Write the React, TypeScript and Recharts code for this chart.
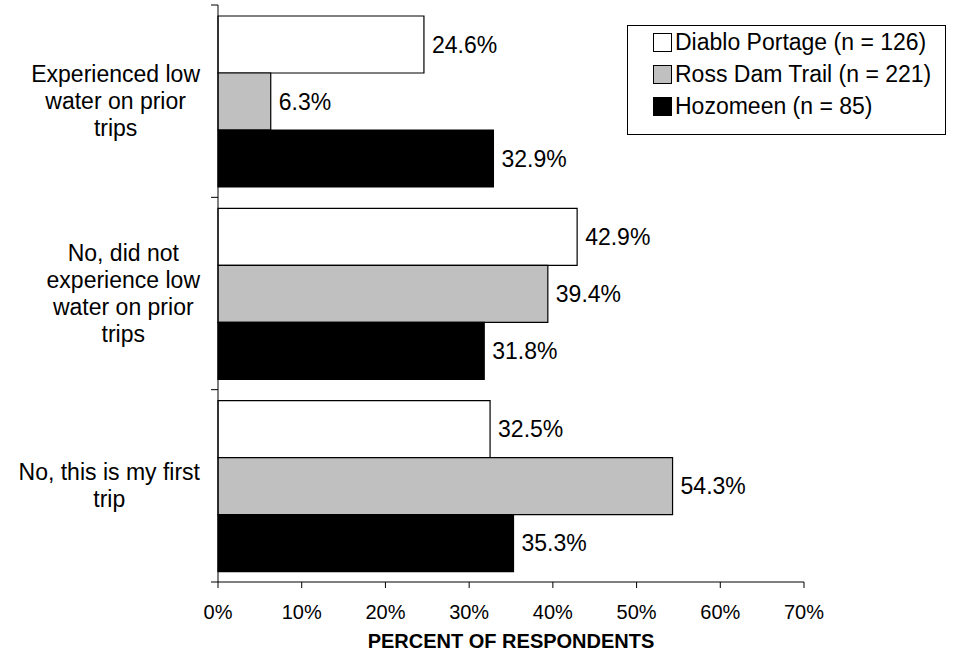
import { BarChart, Bar, XAxis, YAxis, Legend, LabelList, Label } from 'recharts';

const categories = [
  'Experienced low\nwater on prior\ntrips',
  'No, did not\nexperience low\nwater on prior\ntrips',
  'No, this is my first\ntrip',
];
const diabloPortage = [24.6, 42.9, 32.5];
const rossDamTrail = [6.3, 39.4, 54.3];
const hozomeen = [32.9, 31.8, 35.3];
const seriesNames = ['Diablo Portage (n = 126)', 'Ross Dam Trail (n = 221)', 'Hozomeen (n = 85)'];
const seriesColors = ['#ffffff', '#c0c0c0', '#000000'];
const xTicks = [0, 10, 20, 30, 40, 50, 60, 70];

const data = categories.map((category, i) => ({
  category,
  diablo: diabloPortage[i],
  ross: rossDamTrail[i],
  hozomeen: hozomeen[i],
}));

const FONT = '"Liberation Sans", Arial, sans-serif';
const WIDTH = 954;
const HEIGHT = 661;
const PLOT_LEFT = 218;
const PLOT_TOP = 5;
const X_AXIS_H = 79;
const BAND = (HEIGHT - X_AXIS_H - PLOT_TOP) / categories.length;
const LABEL_RIGHT = 200;
const LINE_H = 27;

let measureCtx: CanvasRenderingContext2D | null = null;
const textWidth = (s: string) => {
  if (!measureCtx) measureCtx = document.createElement('canvas').getContext('2d');
  if (!measureCtx) return s.length * 11;
  measureCtx.font = `23px ${FONT}`;
  return measureCtx.measureText(s).width;
};

const CategoryTick = ({ y, payload, index }: any) => {
  const lines = String(payload.value).split('\n');
  const maxW = Math.max(...lines.map(textWidth));
  const cx = LABEL_RIGHT - maxW / 2;
  const y0 = y - ((lines.length - 1) * LINE_H) / 2;
  const half = BAND / 2;
  return (
    <g>
      <line x1={PLOT_LEFT - 7} x2={PLOT_LEFT} y1={y - half} y2={y - half} stroke="#000" />
      {index === categories.length - 1 && (
        <line x1={PLOT_LEFT - 7} x2={PLOT_LEFT} y1={y + half} y2={y + half} stroke="#000" />
      )}
      <text textAnchor="middle" fontSize={23} fill="#000" fontFamily={FONT}>
        {lines.map((l, k) => (
          <tspan key={k} x={cx} y={y0 + k * LINE_H} dy="0.35em">
            {l}
          </tspan>
        ))}
      </text>
    </g>
  );
};

const LegendBox = () => (
  <div
    style={{
      border: '1px solid #000',
      boxSizing: 'border-box',
      width: 319,
      height: 110,
      padding: '1px 0 0 25px',
      fontFamily: FONT,
      fontSize: 23,
      color: '#000',
      background: '#fff',
    }}
  >
    {seriesNames.map((name, i) => (
      <div key={name} style={{ display: 'flex', alignItems: 'center', height: 31.7 }}>
        <span
          style={{
            display: 'inline-block',
            width: 17,
            height: 17,
            border: '1px solid #000',
            background: seriesColors[i],
            marginRight: 3,
          }}
        />
        <span style={{ whiteSpace: 'nowrap' }}>{name}</span>
      </div>
    ))}
  </div>
);

const fmt = (v: any) => `${Number(v).toFixed(1)}%`;
const labelStyle = { fill: '#000', fontSize: 23, fontFamily: FONT };

export default function App() {
  return (
    <div style={{ position: 'absolute', left: 0, top: 0, width: WIDTH, height: HEIGHT, background: '#fff' }}>
      <BarChart
        width={WIDTH}
        height={HEIGHT}
        data={data}
        layout="vertical"
        margin={{ top: PLOT_TOP, right: 150, left: 0, bottom: 0 }}
        barCategoryGap={11}
        barGap={0}
        style={{ fontFamily: FONT }}
      >
        <XAxis
          type="number"
          domain={[0, 70]}
          ticks={xTicks}
          interval={0}
          tickFormatter={(v) => `${v}%`}
          tick={{ fill: '#000', fontSize: 20, fontFamily: FONT }}
          tickSize={6}
          tickMargin={17}
          height={X_AXIS_H}
          axisLine={{ stroke: '#000' }}
          tickLine={{ stroke: '#000' }}
        >
          <Label
            value="PERCENT OF RESPONDENTS"
            position="insideBottom"
            offset={13}
            style={{ fill: '#000', fontSize: 20, fontWeight: 'bold', fontFamily: FONT }}
          />
        </XAxis>
        <YAxis
          type="category"
          dataKey="category"
          width={PLOT_LEFT}
          interval={0}
          tick={<CategoryTick />}
          tickLine={false}
          axisLine={{ stroke: '#000' }}
        />
        <Legend
          layout="vertical"
          align="center"
          verticalAlign="middle"
          wrapperStyle={{ left: 627, top: 25, width: 319, height: 110 }}
          content={() => <LegendBox />}
        />
        <Bar dataKey="diablo" name={seriesNames[0]} fill={seriesColors[0]} stroke="#000" strokeWidth={1.2} isAnimationActive={false}>
          <LabelList dataKey="diablo" position="right" offset={8} formatter={fmt} style={labelStyle} />
        </Bar>
        <Bar dataKey="ross" name={seriesNames[1]} fill={seriesColors[1]} stroke="#000" strokeWidth={1.2} isAnimationActive={false}>
          <LabelList dataKey="ross" position="right" offset={8} formatter={fmt} style={labelStyle} />
        </Bar>
        <Bar dataKey="hozomeen" name={seriesNames[2]} fill={seriesColors[2]} stroke="#000" strokeWidth={1.2} isAnimationActive={false}>
          <LabelList dataKey="hozomeen" position="right" offset={8} formatter={fmt} style={labelStyle} />
        </Bar>
      </BarChart>
    </div>
  );
}
